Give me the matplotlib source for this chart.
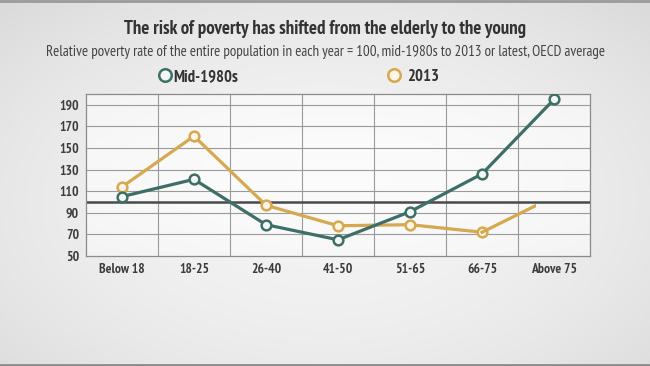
import numpy as np
import matplotlib
matplotlib.use("Agg")
import matplotlib.pyplot as plt
from matplotlib import font_manager
from matplotlib.patches import Rectangle

categories = ["Below 18", "18-25", "26-40", "41-50", "51-65", "66-75", "Above 75"]
mid1980s = [105, 121, 79, 65, 91, 126, 195]
y2013 = [114, 161, 97, 78, 79, 72, 105]
# animation frame: last 2013 segment only partly drawn
drawn_fraction_last = 0.75
yticks = [50, 70, 90, 110, 130, 150, 170, 190]

names = {f.name for f in font_manager.fontManager.ttflist}
cond = next((n for n in ["PT Sans Narrow", "Roboto Condensed", "Fira Sans Condensed",
                         "Asap Condensed", "Archivo Narrow"] if n in names), "DejaVu Sans")
plt.rcParams['font.family'] = [cond, 'DejaVu Sans']

W, H = 650, 366
fig = plt.figure(figsize=(W / 100, H / 100), dpi=100)

# background gradient
bg = fig.add_axes([0, 0, 1, 1], zorder=-10)
yy, xx = np.mgrid[0:1:200j, 0:1:300j]
r = np.sqrt(((xx - 0.5) / 0.75) ** 2 + ((yy - 0.45) / 0.8) ** 2)
g = 0.955 - 0.11 * r ** 2
bg.imshow(np.dstack([g, g, g]), extent=[0, 1, 0, 1], aspect='auto', origin='lower')
bg.axhline(0.997, color='#9a9a9a', lw=2)
bg.axhline(0.003, color='#8a8a8a', lw=2)
bg.set_xlim(0, 1); bg.set_ylim(0, 1)
bg.axis('off')

ax = fig.add_axes([86 / W, 1 - 256 / H, (590 - 86) / W, (256 - 94) / H])
ax.set_facecolor('none')
x = np.arange(len(categories))

ax.set_xlim(-0.5, len(categories) - 0.5)
ax.set_ylim(50, 200)

# plot area gradient
yy2, xx2 = np.mgrid[0:1:100j, 0:1:200j]
g2 = 0.985 - 0.06 * ((xx2 - 0.5) ** 2 + (yy2 - 0.5) ** 2)
ax.imshow(np.dstack([g2, g2, g2]), extent=[-0.5, len(categories) - 0.5, 50, 200],
          aspect='auto', origin='lower', zorder=0)

for v in list(range(70, 200, 20)):
    ax.axhline(v, color='#9a9a9a', lw=0.8, zorder=1)
for xv in np.arange(0.5, len(categories) - 0.5, 1):
    ax.axvline(xv, color='#9a9a9a', lw=0.8, zorder=1)
ax.axhline(100, color='#4a4a4a', lw=1.8, zorder=2)

teal = '#3e6f67'
gold = '#d6a84f'

ax.plot(x, mid1980s, color=teal, lw=2.3, marker='o', ms=7, mfc='#f4f8f6', mec=teal, mew=1.8, zorder=4)

# 2013: full points up to 66-75, then partial last segment (no marker)
ax.plot(x[:-1], y2013[:-1], color=gold, lw=2.3, marker='o', ms=7, mfc='#fdf6e6', mec=gold, mew=1.8, zorder=3)
seg, = ax.plot(x[-2:], y2013[-2:], color=gold, lw=2.3, zorder=3)
clip = Rectangle((-0.5, 50), x[-2] + drawn_fraction_last + 0.5, 150, transform=ax.transData)
seg.set_clip_path(clip)

ax.set_yticks(yticks)
ax.set_xticks(x)
ax.set_xticklabels(categories)
ax.tick_params(length=0, labelsize=9.8, labelcolor='#3c3c3c', pad=5)
for lab in ax.get_xticklabels() + ax.get_yticklabels():
    lab.set_fontweight('bold')
for s in ax.spines.values():
    s.set_color('#8a8a8a')
    s.set_linewidth(0.9)

fig.text(0.5, 1 - 34 / H, "The risk of poverty has shifted from the elderly to the young",
         ha='center', va='baseline', fontsize=13.6, fontweight='bold', color='#333333')
fig.text(0.5, 1 - 56 / H,
         "Relative poverty rate of the entire population in each year = 100, mid-1980s to 2013 or latest, OECD average",
         ha='center', va='baseline', fontsize=10.8, color='#444444')

# legend
fig.add_artist(plt.Line2D([165 / W], [1 - 75 / H], marker='o', ms=9, mfc='#f4f8f6', mec=teal, mew=1.8,
                          transform=fig.transFigure))
fig.text(173 / W, 1 - 81 / H, "Mid-1980s", ha='left', va='baseline', fontsize=12, fontweight='bold', color='#333333')
fig.add_artist(plt.Line2D([394 / W], [1 - 75 / H], marker='o', ms=9, mfc='#fdf6e6', mec=gold, mew=1.8,
                          transform=fig.transFigure))
fig.text(407 / W, 1 - 81 / H, "2013", ha='left', va='baseline', fontsize=12, fontweight='bold', color='#333333')

fig.savefig("out.png", dpi=100)
